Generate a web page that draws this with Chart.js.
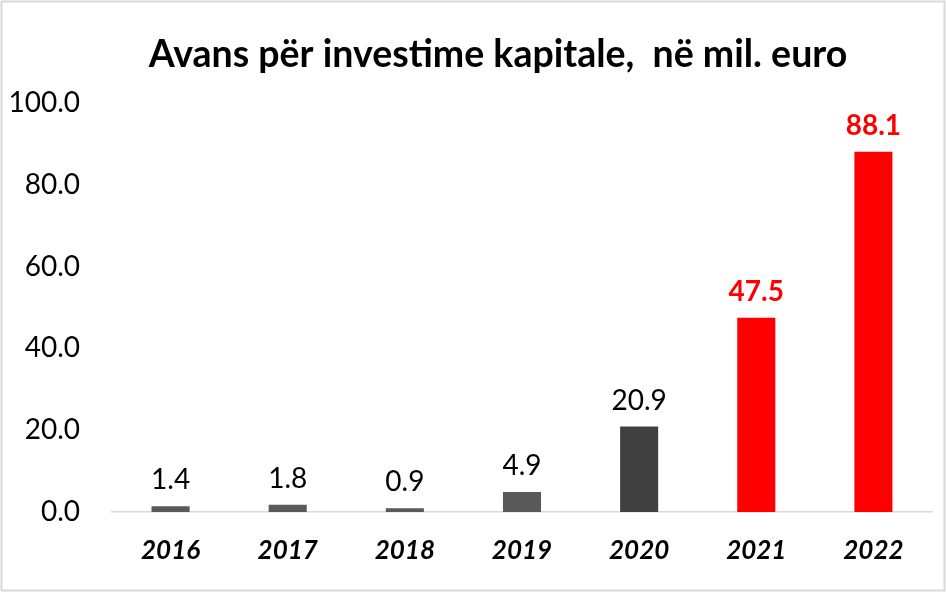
<!DOCTYPE html>
<html>
<head>
<meta charset="utf-8">
<script src="https://cdn.jsdelivr.net/npm/chart.js@4/dist/chart.umd.min.js"></script>
<style>
  html, body { margin: 0; padding: 0; background: #fff; }
  #wrap { width: 946px; height: 593px; }
</style>
</head>
<body>
<div id="wrap"><canvas id="avansChart" width="946" height="593"></canvas></div>
<script>
// ========== DATA ==========
const titulli = "Avans për investime kapitale,  në mil. euro";
const vitet = ["2016", "2017", "2018", "2019", "2020", "2021", "2022"];
const vlerat = [1.4, 1.8, 0.9, 4.9, 20.9, 47.5, 88.1];
const ngjyrat = ["#595959", "#595959", "#595959", "#595959", "#404040", "#ff0000", "#ff0000"];
const etiketaTheks = [false, false, false, false, false, true, true]; // red + bold labels
const yTicks = [0, 20, 40, 60, 80, 100];

// ========== PLUGINS ==========
const kornizaPlugin = {
    id: "korniza",
    beforeDraw(chart) {
        const c = chart.ctx;
        c.save();
        c.fillStyle = "#fff";
        c.fillRect(0, 0, chart.width, chart.height);
        c.strokeStyle = "#d9d9d9";
        c.lineWidth = 2;
        c.strokeRect(1.5, 1.5, chart.width - 3, chart.height - 4);
        c.restore();
    },
};

const titulliPlugin = {
    id: "titulli",
    afterDraw(chart) {
        const c = chart.ctx;
        c.save();
        c.font = "bold 37.5px Lato";
        c.fillStyle = "#000";
        c.textAlign = "center";
        c.textBaseline = "middle";
        c.fillText(titulli, 498, 55);
        c.restore();
    },
};

const etiketatPlugin = {
    id: "etiketat",
    afterDatasetsDraw(chart) {
        const c = chart.ctx;
        const meta = chart.getDatasetMeta(0);
        c.save();
        c.textAlign = "center";
        c.textBaseline = "middle";
        meta.data.forEach((bar, i) => {
            if (etiketaTheks[i]) {
                c.font = "bold 28px Lato";
                c.fillStyle = "#ff0000";
            } else {
                c.font = "28px Lato";
                c.fillStyle = "#000";
            }
            c.fillText(vlerat[i].toFixed(1), bar.x, bar.y - 26);
        });
        c.restore();
    },
};

// ========== GRÁFICO ==========
const ctx = document.getElementById("avansChart").getContext("2d");
new Chart(ctx, {
    type: "bar",
    data: {
        labels: vitet,
        datasets: [{
            data: vlerat,
            backgroundColor: ngjyrat,
            borderWidth: 0,
            barPercentage: 0.325,
            categoryPercentage: 1,
        }],
    },
    options: {
        responsive: false,
        animation: false,
        layout: { padding: { top: 103, right: 14, bottom: 0, left: 0 } },
        plugins: {
            legend: { display: false },
            tooltip: { enabled: false },
            title: { display: false },
        },
        scales: {
            x: {
                afterFit(scale) { scale.height = 81; },
                grid: { display: false, drawTicks: false },
                border: { display: true, color: "#d9d9d9", width: 1.5 },
                ticks: {
                    color: "#000",
                    padding: 23,
                    font: { family: "Lato", size: 26, weight: "bold", style: "italic" },
                },
            },
            y: {
                min: 0,
                max: 100,
                afterFit(scale) { scale.width = 112; },
                afterBuildTicks(scale) { scale.ticks = yTicks.map((v) => ({ value: v })); },
                grid: { display: false, drawTicks: false },
                border: { display: false },
                ticks: {
                    color: "#000",
                    padding: 32,
                    font: { family: "Lato", size: 28 },
                    callback: (v) => Number(v).toFixed(1),
                },
            },
        },
    },
    plugins: [kornizaPlugin, titulliPlugin, etiketatPlugin],
});
</script>
</body>
</html>
